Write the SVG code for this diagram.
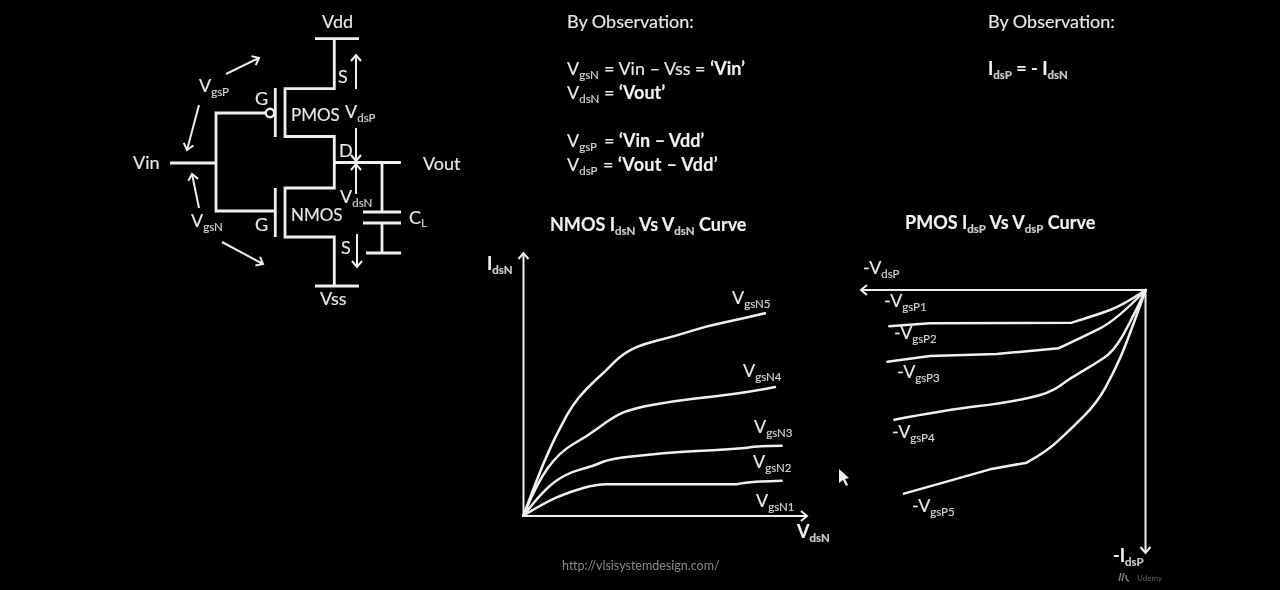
<svg xmlns="http://www.w3.org/2000/svg" width="1280" height="590" viewBox="0 0 1280 590">
<style>
text{font-family:"Lato","Open Sans",sans-serif;font-size:18px;fill:#e8e8e8;stroke:#e8e8e8;stroke-width:.15}
.b{font-weight:700;fill:#f2f2f2}
.t{font-size:18px}
.m{font-size:17px}
.s{font-size:11.5px;fill:#c8c8c8}
.w{fill:none;stroke:#f0f0f0;stroke-width:2.8;stroke-linejoin:miter;stroke-linecap:butt}
.a{fill:none;stroke:#eee;stroke-width:2;marker-end:url(#h)}
.c{fill:none;stroke:#f0f0f0;stroke-width:7.5;stroke-linejoin:round;stroke-linecap:round}
</style>
<defs>
<marker id="h" markerUnits="userSpaceOnUse" markerWidth="16" markerHeight="16" refX="10" refY="8" orient="auto" viewBox="0 0 16 16"><path d="M4,3 L10,8 L4,13" fill="none" stroke="#eee" stroke-width="2"/></marker>
<filter id="soft" x="0" y="0" width="100%" height="100%"><feGaussianBlur stdDeviation="0.45"/></filter>
</defs>
<rect width="1280" height="590" fill="#000"/>
<g filter="url(#soft)">
<g id="connectors">
<path class="w" d="M315,38.7H359M334.3,38.7V88.7H285V136.5H334.3V188H285V237H334.3V286M315,286H359"/>
<path class="w" d="M170,163H216M265,113H216V211H275"/>
<path class="w" d="M334,162.5H401M382,162.5V212M382,223V253"/>
<path class="a" d="M226,74L259,58"/>
<path class="a" d="M199,105L187,150"/>
<path class="a" d="M199,208L192,174"/>
<path class="a" d="M222,242L263,264"/>
<path class="a" d="M356,89V55"/>
<path class="a" d="M356,128V161"/>
<path class="a" d="M356,194V164"/>
<path class="a" d="M357,234V267"/>
</g>
<g id="pmos">
<path class="w" d="M275.3,88V137"/>
<circle cx="270" cy="113" r="4.2" fill="none" stroke="#f0f0f0" stroke-width="2.4"/>
<text x="291" y="121" class="m">PMOS</text>
<text x="255" y="105">G</text>
<text x="338" y="83">S</text>
<text x="339" y="157">D</text>
</g>
<g id="nmos">
<path class="w" d="M275.3,188V237"/>
<text x="291" y="221" class="m">NMOS</text>
<text x="255" y="231">G</text>
<text x="341" y="254">S</text>
</g>
<g id="capacitor">
<path class="w" d="M363,212H401M363,223H401M366,253H401"/>
<text x="409" y="224">C<tspan class="s" dy="3">L</tspan></text>
</g>
<g id="circuit-labels">
<text x="322" y="28">Vdd</text>
<text x="320" y="305">Vss</text>
<text x="133" y="169">Vin</text>
<text x="423" y="170">Vout</text>
<text x="199" y="92">V<tspan class="s" dy="4">gsP</tspan></text>
<text x="191" y="227">V<tspan class="s" dy="4">gsN</tspan></text>
<text x="345" y="118">V<tspan class="s" dy="4">dsP</tspan></text>
<text x="340" y="203">V<tspan class="s" dy="4">dsN</tspan></text>
</g>
<g id="observations">
<text x="567" y="28">By Observation:</text>
<text x="567" y="75">V<tspan class="s" dy="4">gsN</tspan><tspan dy="-4" x="604">= Vin – Vss = </tspan><tspan class="b">‘Vin’</tspan></text>
<text x="567" y="99">V<tspan class="s" dy="4">dsN</tspan><tspan dy="-4" x="604">= </tspan><tspan class="b">‘Vout’</tspan></text>
<text x="567" y="147">V<tspan class="s" dy="4">gsP</tspan><tspan dy="-4" x="604">= </tspan><tspan class="b">‘Vin – Vdd’</tspan></text>
<text x="567" y="171">V<tspan class="s" dy="4">dsP</tspan><tspan dy="-4" x="603">= </tspan><tspan class="b" style="letter-spacing:.3px">‘Vout – Vdd’</tspan></text>
<text x="988" y="28">By Observation:</text>
<text x="988" y="75" class="b">I<tspan class="s b" dy="4">dsP</tspan><tspan dy="-4"> = - I</tspan><tspan class="s b" dy="4">dsN</tspan></text>
</g>
<g id="nmos-chart">
<text x="550" y="231" class="b t">NMOS I<tspan class="s b" dy="4">dsN</tspan><tspan dy="-4"> Vs V</tspan><tspan class="s b" dy="4">dsN</tspan><tspan dy="-4"> Curve</tspan></text>
<path class="a" d="M523.5,516V253"/>
<path class="a" d="M523.5,516H807"/>
<g transform="translate(480 210) scale(.33333)">
<path class="c" d="M130,917Q170,810 190,762Q210,715 227,680Q245,645 260,617Q275,590 297,562Q320,535 347,510Q375,485 402,457Q430,430 460,416Q490,402 535,391Q580,380 630,364Q680,348 725,339Q770,330 855,310"/>
<path class="c" d="M130,917Q170,820 205,772Q240,725 280,702Q320,680 360,650Q400,620 430,607Q460,595 520,584Q580,573 640,566Q700,560 765,551Q830,543 885,531"/>
<path class="c" d="M130,917Q190,840 225,815Q260,790 300,779Q340,768 367,756Q395,745 447,740Q500,735 550,730Q600,725 650,723Q700,722 745,718Q790,715 815,711Q840,707 905,707"/>
<path class="c" d="M130,917Q190,880 230,862Q270,845 310,834Q350,823 380,823L770,823Q800,815 905,812"/>
</g>
<text x="487" y="270" class="b">I<tspan class="s b" dy="4">dsN</tspan></text>
<text x="797" y="538" class="b">V<tspan class="s b" dy="4">dsN</tspan></text>
<text x="732" y="304">V<tspan class="s" dy="4">gsN5</tspan></text>
<text x="743" y="377">V<tspan class="s" dy="4">gsN4</tspan></text>
<text x="754" y="433">V<tspan class="s" dy="4">gsN3</tspan></text>
<text x="753" y="468">V<tspan class="s" dy="4">gsN2</tspan></text>
<text x="756" y="507">V<tspan class="s" dy="4">gsN1</tspan></text>
</g>
<g id="pmos-chart">
<text x="905" y="229" class="b t">PMOS I<tspan class="s b" dy="4">dsP</tspan><tspan dy="-4"> Vs V</tspan><tspan class="s b" dy="4">dsP</tspan><tspan dy="-4"> Curve</tspan></text>
<path class="a" d="M1145.5,290H861"/>
<path class="a" d="M1145.5,290V553"/>
<g transform="translate(830 210) scale(.33333)">
<path class="c" d="M178,349L300,340L725,338Q800,315 840,300Q880,285 947,240"/>
<path class="c" d="M172,455L300,438L500,432L685,415Q760,380 810,355Q860,330 947,240"/>
<path class="c" d="M193,629Q350,600 440,589Q530,578 595,564Q660,550 690,527Q720,505 755,485Q790,465 820,445Q850,425 875,382Q900,340 947,240"/>
<path class="c" d="M222,851L350,815L480,778L590,758Q650,725 685,692Q720,660 760,620Q800,580 825,535Q850,490 870,445Q890,400 947,240"/>
</g>
<text x="863" y="274">-V<tspan class="s" dy="4">dsP</tspan></text>
<text x="884" y="307">-V<tspan class="s" dy="4">gsP1</tspan></text>
<text x="894" y="339">-V<tspan class="s" dy="4">gsP2</tspan></text>
<text x="897" y="378">-V<tspan class="s" dy="4">gsP3</tspan></text>
<text x="892" y="438">-V<tspan class="s" dy="4">gsP4</tspan></text>
<text x="912" y="512">-V<tspan class="s" dy="4">gsP5</tspan></text>
<text x="1113" y="562" class="b">-I<tspan class="s b" dy="4">dsP</tspan></text>
</g>
<g id="footer">
<text x="562" y="570" style="font-size:12.5px;fill:#8a8a8a;stroke:none">http://vlsisystemdesign.com/</text>
<path d="M1121,573L1119,581M1124,573L1122,581M1126,575Q1126,581 1129,581" fill="none" stroke="#777" stroke-width="1.6"/>
<text x="1137" y="581" style="font-size:8px;fill:#666;stroke:none">Udemy</text>
<polygon points="839,469 839,483 843,480 846,486 848,485 845,479 849,478" fill="#eee"/>
</g>
</g>
</svg>
